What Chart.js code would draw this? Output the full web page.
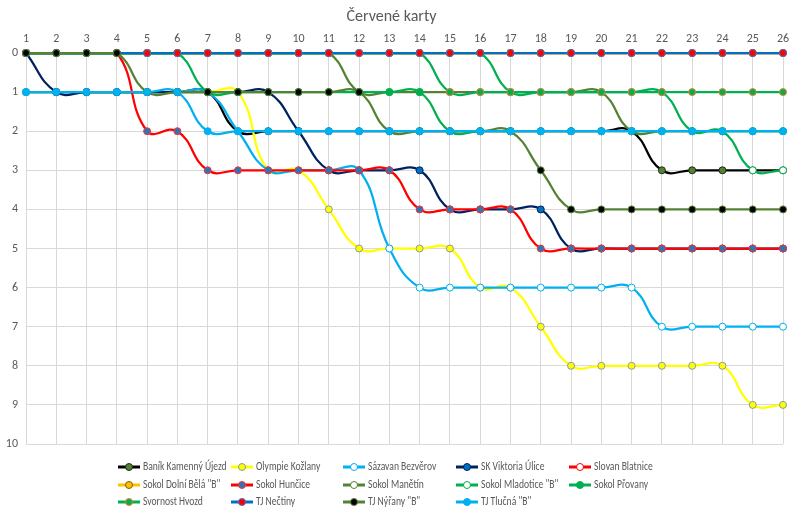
<!DOCTYPE html>
<html>
<head>
<meta charset="utf-8">
<script src="https://cdn.jsdelivr.net/npm/chart.js@4/dist/chart.umd.min.js"></script>
<style>
  html, body { margin: 0; padding: 0; background: #fff; }
  #wrap { width: 800px; height: 516px; }
</style>
</head>
<body>
<div id="wrap"><canvas id="chart" width="800" height="516"></canvas></div>
<script>
const rounds = ['1','2','3','4','5','6','7','8','9','10','11','12','13','14','15','16','17','18','19','20','21','22','23','24','25','26'];
const yTicks = [0, 1, 2, 3, 4, 5, 6, 7, 8, 9, 10];

const teams = ['Baník Kamenný Újezd', 'Olympie Kožlany', 'Sázavan Bezvěrov', 'SK Viktoria Úlice', 'Slovan Blatnice',
  'Sokol Dolní Bělá "B"', 'Sokol Hunčice', 'Sokol Manětín', 'Sokol Mladotice "B"', 'Sokol Přovany',
  'Svornost Hvozd', 'TJ Nečtiny', 'TJ Nýřany "B"', 'TJ Tlučná "B"'];

const banik     = [1,1,1,1,1,1,1,2,2,2,2,2,2,2,2,2,2,2,2,2,2,3,3,3,3,3];
const olympie   = [1,1,1,1,1,1,1,1,3,3,4,5,5,5,5,6,6,7,8,8,8,8,8,8,9,9];
const sazavan   = [1,1,1,1,1,1,1,2,3,3,3,3,5,6,6,6,6,6,6,6,6,7,7,7,7,7];
const viktoria  = [0,1,1,1,1,1,1,1,1,2,3,3,3,3,4,4,4,4,5,5,5,5,5,5,5,5];
const blatnice  = [0,0,0,0,0,0,0,0,0,0,0,0,0,0,0,0,0,0,0,0,0,0,0,0,0,0];
const dolniBela = [0,0,0,0,0,0,0,0,0,0,0,0,0,0,0,0,0,0,0,0,0,0,0,0,0,0];
const huncice   = [0,0,0,0,2,2,3,3,3,3,3,3,3,4,4,4,4,5,5,5,5,5,5,5,5,5];
const manetin   = [0,0,0,0,0,0,0,0,0,0,0,1,1,1,1,1,1,1,1,1,2,2,2,2,2,2];
const mladotice = [0,0,0,0,0,0,0,0,0,0,0,0,0,0,0,0,1,1,1,1,1,1,2,2,3,3];
const provany   = [0,0,0,0,0,0,1,1,1,1,1,1,1,1,2,2,2,2,2,2,2,2,2,2,2,2];
const hvozd     = [0,0,0,0,0,0,0,0,0,0,0,0,0,0,1,1,1,1,1,1,1,1,1,1,1,1];
const nectiny   = [0,0,0,0,0,0,0,0,0,0,0,0,0,0,0,0,0,0,0,0,0,0,0,0,0,0];
const nyrany    = [0,0,0,0,1,1,1,1,1,1,1,1,2,2,2,2,2,3,4,4,4,4,4,4,4,4];
const tlucna    = [1,1,1,1,1,1,2,2,2,2,2,2,2,2,2,2,2,2,2,2,2,2,2,2,2,2];

const series = [banik, olympie, sazavan, viktoria, blatnice, dolniBela, huncice, manetin, mladotice, provany, hvozd, nectiny, nyrany, tlucna];

// line colour, marker fill, marker border
const styles = [
  ['#000000', '#548235', '#1e2b14'],
  ['#FFFF00', '#FFFF00', '#8a9aa0'],
  ['#00B0F0', '#FFFFFF', '#00B0F0'],
  ['#002060', '#0070C0', '#002060'],
  ['#FF0000', '#FFFFFF', '#FF0000'],
  ['#FFC000', '#FFC000', '#7F6000'],
  ['#FF0000', '#2E75B6', '#FF3030'],
  ['#548235', '#FFFFFF', '#548235'],
  ['#00B050', '#FFFFFF', '#00B050'],
  ['#00B050', '#00B050', '#00B050'],
  ['#00B050', '#00B050', '#ED7D31'],
  ['#0070C0', '#FF0000', '#4472C4'],
  ['#548235', '#000000', '#548235'],
  ['#00B0F0', '#00B0F0', '#00B0F0']
];

const datasets = teams.map((name, i) => ({
  label: name,
  data: series[i],
  borderColor: styles[i][0],
  backgroundColor: styles[i][1],
  pointBackgroundColor: styles[i][1],
  pointBorderColor: styles[i][2],
  pointBorderWidth: 1,
  pointRadius: 3.5,
  borderWidth: 2.25,
  tension: 0.45,
  clip: false,
  order: teams.length - i
}));

const fontFam = "'Liberation Sans Narrow', 'Carlito', 'Liberation Sans', sans-serif";

// Excel-like grid legend drawn under the plot
const gridLegend = {
  id: 'gridLegend',
  afterDraw(chart) {
    const ctx = chart.ctx;
    const colX = [118, 231, 343, 456, 569];
    const rowY = [467, 485, 502];
    ctx.save();
    ctx.font = '12px ' + fontFam;
    ctx.textBaseline = 'middle';
    chart.data.datasets.forEach((ds, i) => {
      const x = colX[i % 5];
      const y = rowY[Math.floor(i / 5)];
      ctx.strokeStyle = ds.borderColor;
      ctx.lineWidth = 3;
      ctx.beginPath();
      ctx.moveTo(x, y);
      ctx.lineTo(x + 22, y);
      ctx.stroke();
      ctx.beginPath();
      ctx.arc(x + 11, y, 3.5, 0, Math.PI * 2);
      ctx.fillStyle = ds.pointBackgroundColor;
      ctx.fill();
      ctx.lineWidth = 1;
      ctx.strokeStyle = ds.pointBorderColor;
      ctx.stroke();
      // condensed text, close to the narrow face of the original
      ctx.save();
      ctx.translate(x + 25, y);
      ctx.scale(0.8, 1);
      ctx.fillStyle = '#595959';
      ctx.fillText(ds.label, 0, 0);
      ctx.restore();
    });
    ctx.restore();
  }
};

new Chart(document.getElementById('chart'), {
  type: 'line',
  data: { labels: rounds, datasets: datasets },
  options: {
    responsive: false,
    animation: false,
    layout: { padding: { top: 0, right: 17, bottom: 72, left: 0 } },
    plugins: {
      legend: { display: false },
      tooltip: { enabled: false },
      title: {
        display: true,
        text: 'Červené karty',
        color: '#595959',
        font: { family: fontFam, size: 16, weight: 'normal' },
        padding: { top: 7, bottom: 7 }
      }
    },
    scales: {
      x: {
        position: 'top',
        afterFit: s => { s.height = 53 - 33.2; },
        grid: { color: '#D9D9D9', drawTicks: false },
        border: { color: '#D9D9D9' },
        ticks: { color: '#595959', padding: 7, maxRotation: 0, autoSkip: false, font: { family: fontFam, size: 12 } }
      },
      y: {
        reverse: true,
        min: yTicks[0],
        max: yTicks[yTicks.length - 1],
        afterFit: s => { s.width = 26; },
        afterBuildTicks: s => { s.ticks = yTicks.map(v => ({ value: v })); },
        grid: { color: '#D9D9D9', drawTicks: false },
        border: { color: '#D9D9D9' },
        ticks: { color: '#595959', padding: 8, font: { family: fontFam, size: 12 } }
      }
    }
  },
  plugins: [gridLegend]
});
</script>
</body>
</html>
